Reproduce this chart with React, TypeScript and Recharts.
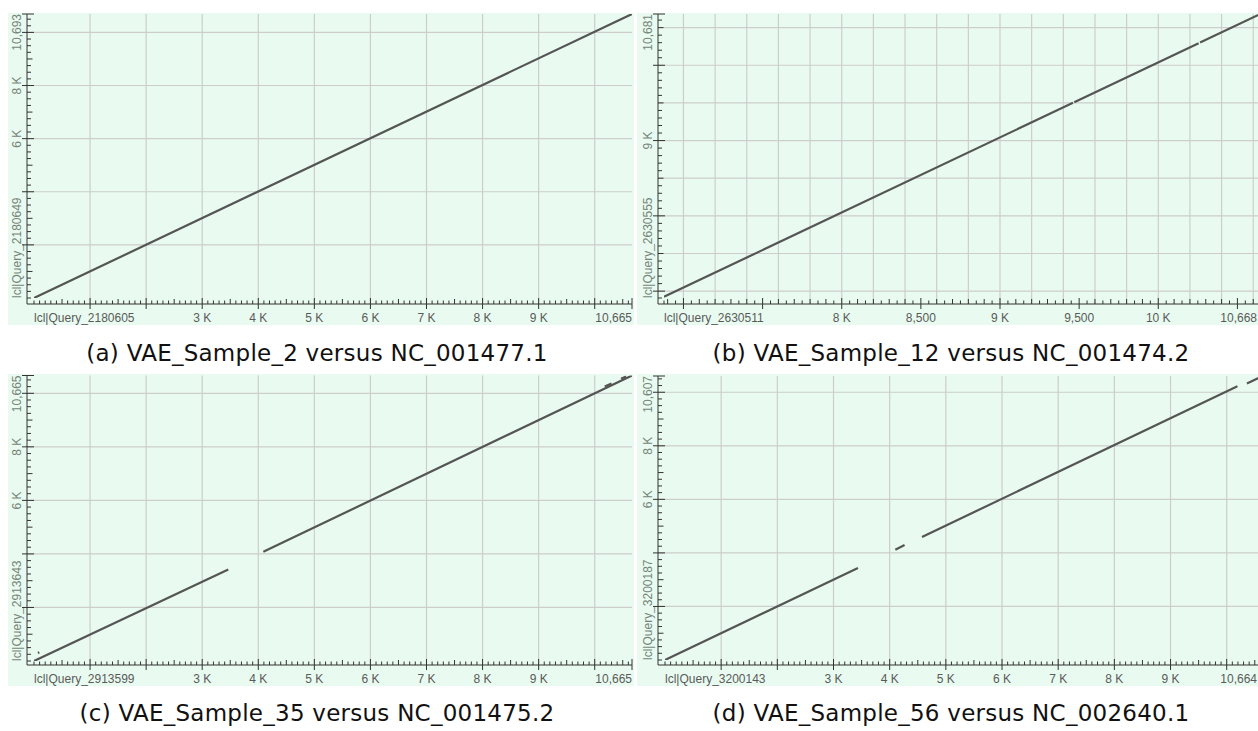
import React from 'react';
import { ComposedChart, Line, XAxis, YAxis, CartesianGrid } from 'recharts';

type Pt = { x: number; y: number };
type TickLabel = { v: number; t: string; anchor: 'start' | 'middle' | 'end'; shift?: number };

// ---------- (a) VAE_Sample_2 versus NC_001477.1 ----------
const aXDomain: [number, number] = [0, 10665];
const aYDomain: [number, number] = [0, 10693];
const aSegments: Pt[][] = [
  [{ x: 0, y: 0 }, { x: 10665, y: 10693 }],
];
const aXLabels: TickLabel[] = [
  { v: 0, t: 'lcl|Query_2180605', anchor: 'start' },
  { v: 3000, t: '3 K', anchor: 'middle' },
  { v: 4000, t: '4 K', anchor: 'middle' },
  { v: 5000, t: '5 K', anchor: 'middle' },
  { v: 6000, t: '6 K', anchor: 'middle' },
  { v: 7000, t: '7 K', anchor: 'middle' },
  { v: 8000, t: '8 K', anchor: 'middle' },
  { v: 9000, t: '9 K', anchor: 'middle' },
  { v: 10665, t: '10,665', anchor: 'end' },
];
const aYLabels: TickLabel[] = [
  { v: 0, t: 'lcl|Query_2180649', anchor: 'start' },
  { v: 6000, t: '6 K', anchor: 'middle' },
  { v: 8000, t: '8 K', anchor: 'middle' },
  { v: 10693, t: '10,693', anchor: 'end' },
];
const aXGrid = [1000, 2000, 3000, 4000, 5000, 6000, 7000, 8000, 9000, 10000];
const aYGrid = [2000, 4000, 6000, 8000, 10000];

// ---------- (b) VAE_Sample_12 versus NC_001474.2 ----------
const bXDomain: [number, number] = [6877, 10668];
const bYDomain: [number, number] = [6909, 10681];
const bSegments: Pt[][] = [
  [{ x: 6877, y: 6925 }, { x: 9461, y: 9502 }],
  [{ x: 9469, y: 9509 }, { x: 10255, y: 10292 }],
  [{ x: 10264, y: 10301 }, { x: 10645, y: 10681 }],
];
const bXLabels: TickLabel[] = [
  { v: 6877, t: 'lcl|Query_2630511', anchor: 'start' },
  { v: 8000, t: '8 K', anchor: 'middle' },
  { v: 8500, t: '8,500', anchor: 'middle' },
  { v: 9000, t: '9 K', anchor: 'middle' },
  { v: 9500, t: '9,500', anchor: 'middle' },
  { v: 10000, t: '10 K', anchor: 'middle' },
  { v: 10668, t: '10,668', anchor: 'end', shift: -7 },
];
const bYLabels: TickLabel[] = [
  { v: 6909, t: 'lcl|Query_2630555', anchor: 'start' },
  { v: 9000, t: '9 K', anchor: 'middle' },
  { v: 10681, t: '10,681', anchor: 'end', shift: 0 },
];
const bXGrid = [7000, 7200, 7400, 7600, 7800, 8000, 8200, 8400, 8600, 8800, 9000, 9200, 9400, 9600, 9800, 10000, 10200, 10400, 10600];
const bYGrid = [7000, 7500, 8000, 8500, 9000, 9500, 10000, 10500];

// ---------- (c) VAE_Sample_35 versus NC_001475.2 ----------
const cXDomain: [number, number] = [0, 10665];
const cYDomain: [number, number] = [0, 10665];
const cSegments: Pt[][] = [
  [{ x: 0, y: 0 }, { x: 3465, y: 3420 }],
  [{ x: 70, y: 300 }, { x: 95, y: 325 }],
  [{ x: 4090, y: 4080 }, { x: 10665, y: 10665 }],
  [{ x: 10180, y: 10250 }, { x: 10300, y: 10370 }],
  [{ x: 10470, y: 10540 }, { x: 10560, y: 10630 }],
];
const cXLabels: TickLabel[] = [
  { v: 0, t: 'lcl|Query_2913599', anchor: 'start' },
  { v: 3000, t: '3 K', anchor: 'middle' },
  { v: 4000, t: '4 K', anchor: 'middle' },
  { v: 5000, t: '5 K', anchor: 'middle' },
  { v: 6000, t: '6 K', anchor: 'middle' },
  { v: 7000, t: '7 K', anchor: 'middle' },
  { v: 8000, t: '8 K', anchor: 'middle' },
  { v: 9000, t: '9 K', anchor: 'middle' },
  { v: 10665, t: '10,665', anchor: 'end' },
];
const cYLabels: TickLabel[] = [
  { v: 0, t: 'lcl|Query_2913643', anchor: 'start' },
  { v: 6000, t: '6 K', anchor: 'middle' },
  { v: 8000, t: '8 K', anchor: 'middle' },
  { v: 10665, t: '10,665', anchor: 'end' },
];
const cXGrid = [1000, 2000, 3000, 4000, 5000, 6000, 7000, 8000, 9000, 10000];
const cYGrid = [2000, 4000, 6000, 8000, 10000];

// ---------- (d) VAE_Sample_56 versus NC_002640.1 ----------
const dXDomain: [number, number] = [0, 10664];
const dYDomain: [number, number] = [0, 10607];
const dSegments: Pt[][] = [
  [{ x: 0, y: 0 }, { x: 3435, y: 3435 }],
  [{ x: 4100, y: 4120 }, { x: 4265, y: 4295 }],
  [{ x: 4575, y: 4594 }, { x: 10191, y: 10224 }],
  [{ x: 10360, y: 10330 }, { x: 10640, y: 10600 }],
];
const dXLabels: TickLabel[] = [
  { v: 0, t: 'lcl|Query_3200143', anchor: 'start' },
  { v: 3000, t: '3 K', anchor: 'middle' },
  { v: 4000, t: '4 K', anchor: 'middle' },
  { v: 5000, t: '5 K', anchor: 'middle' },
  { v: 6000, t: '6 K', anchor: 'middle' },
  { v: 7000, t: '7 K', anchor: 'middle' },
  { v: 8000, t: '8 K', anchor: 'middle' },
  { v: 9000, t: '9 K', anchor: 'middle' },
  { v: 10664, t: '10,664', anchor: 'end', shift: -7 },
];
const dYLabels: TickLabel[] = [
  { v: 0, t: 'lcl|Query_3200187', anchor: 'start' },
  { v: 6000, t: '6 K', anchor: 'middle' },
  { v: 8000, t: '8 K', anchor: 'middle' },
  { v: 10607, t: '10,607', anchor: 'end' },
];
const dXGrid = [1000, 2000, 3000, 4000, 5000, 6000, 7000, 8000, 9000, 10000];
const dYGrid = [2000, 4000, 6000, 8000, 10000];

const captions = [
  { t: '(a) VAE_Sample_2 versus NC_001477.1', x: 317, y: 361 },
  { t: '(b) VAE_Sample_12 versus NC_001474.2', x: 951, y: 361 },
  { t: '(c) VAE_Sample_35 versus NC_001475.2', x: 317, y: 721 },
  { t: '(d) VAE_Sample_56 versus NC_002640.1', x: 951, y: 721 },
];

const PANEL_BG = '#E9FBF0';
const GRID = '#CDCDCD';
const MARK = '#555555';
const AXIS = '#333333';
const LABEL_FONT = '"Liberation Sans", Arial, sans-serif';

function tickValues(min: number, max: number, step: number): number[] {
  const out: number[] = [min];
  for (let v = Math.ceil(min / step) * step; v < max; v += step) {
    if (v > min) out.push(v);
  }
  out.push(max);
  return out;
}

type PanelProps = {
  left: number;
  top: number;
  boxWidth: number;
  chartWidth: number;
  plotTop: number;
  plotBottom: number;
  axisLeft: number;
  plotRight: number;
  padLeft: number;
  padBottom: number;
  xDomain: [number, number];
  yDomain: [number, number];
  xStep: number;
  xMid: number;
  xMajor: number;
  yStep: number;
  yMid: number;
  yMajor: number;
  xLabels: TickLabel[];
  yLabels: TickLabel[];
  xGrid: number[];
  yGrid: number[];
  segments: Pt[][];
};

const HEIGHT = 312;

function Panel(p: PanelProps) {
  const xTicks = tickValues(p.xDomain[0], p.xDomain[1], p.xStep);
  const yTicks = tickValues(p.yDomain[0], p.yDomain[1], p.yStep);
  const xLab = new Map(p.xLabels.map((l) => [l.v, l]));
  const yLab = new Map(p.yLabels.map((l) => [l.v, l]));

  const xKind = (v: number) => {
    if (v === p.xDomain[0]) return 'minor';
    if (v === p.xDomain[1] || v % p.xMajor === 0) return 'major';
    if (v % p.xMid === 0) return 'mid';
    return 'minor';
  };
  const yKind = (v: number) => {
    if (v === p.yDomain[0]) return 'minor';
    if (v === p.yDomain[1] || v % p.yMajor === 0) return 'major';
    if (v % p.yMid === 0) return 'mid';
    return 'minor';
  };

  const renderXTick = (props: any) => {
    const { x, y, payload } = props;
    const v = payload.value as number;
    const k = xKind(v);
    const lab = xLab.get(v);
    const up = k === 'major' ? 6 : k === 'mid' ? 5 : 3.5;
    const down = k === 'major' ? 5 : 0;
    return (
      <g>
        <line x1={x} x2={x} y1={y - up} y2={y + down} stroke={AXIS} strokeWidth={1} />
        {lab && (
          <text
            x={x + (lab.shift ?? 0)}
            y={y + 18}
            textAnchor={lab.anchor}
            fontSize={12}
            fontFamily={LABEL_FONT}
            fill="#5a5a5a"
          >
            {lab.t}
          </text>
        )}
      </g>
    );
  };

  const renderYTick = (props: any) => {
    const { x, y, payload } = props;
    const v = payload.value as number;
    const k = yKind(v);
    const lab = yLab.get(v);
    const l = k === 'major' ? 5 : 0;
    const r = k === 'major' ? 7 : k === 'mid' ? 5.5 : 4;
    const lx = x - 6;
    const ly = y + (lab?.shift ?? 0);
    return (
      <g>
        <line x1={x - l} x2={x + r} y1={y} y2={y} stroke={AXIS} strokeWidth={1} />
        {lab && (
          <text
            x={lx}
            y={ly}
            transform={`rotate(-90 ${lx} ${ly})`}
            textAnchor={lab.anchor}
            fontSize={12}
            fontFamily={LABEL_FONT}
            fill="#75857a"
          >
            {lab.t}
          </text>
        )}
      </g>
    );
  };

  return (
    <div
      style={{
        position: 'absolute',
        left: p.left,
        top: p.top,
        width: p.boxWidth,
        height: HEIGHT,
        overflow: 'hidden',
        background: PANEL_BG,
      }}
    >
      <ComposedChart
        width={p.chartWidth}
        height={HEIGHT}
        margin={{ top: p.plotTop, right: p.chartWidth - p.plotRight, bottom: 0, left: 0 }}
      >
        <CartesianGrid
          stroke={GRID}
          strokeWidth={1.2}
          horizontalValues={p.yGrid}
          verticalValues={p.xGrid}
        />
        <XAxis
          type="number"
          dataKey="x"
          domain={p.xDomain}
          allowDataOverflow
          ticks={xTicks}
          interval={0}
          height={HEIGHT - p.plotBottom}
          padding={{ left: p.padLeft, right: 0 }}
          tickSize={0}
          tickMargin={0}
          tickLine={false}
          axisLine={{ stroke: AXIS, strokeWidth: 1 }}
          tick={renderXTick}
        />
        <YAxis
          type="number"
          dataKey="y"
          domain={p.yDomain}
          allowDataOverflow
          ticks={yTicks}
          interval={0}
          width={p.axisLeft}
          padding={{ top: 0, bottom: p.padBottom }}
          tickSize={0}
          tickMargin={0}
          tickLine={false}
          axisLine={{ stroke: AXIS, strokeWidth: 1 }}
          tick={renderYTick}
        />
        {p.segments.map((seg, i) => (
          <Line
            key={i}
            data={seg}
            dataKey="y"
            type="linear"
            stroke={MARK}
            strokeWidth={2.2}
            dot={false}
            activeDot={false}
            isAnimationActive={false}
          />
        ))}
      </ComposedChart>
    </div>
  );
}

export default function App() {
  return (
    <div
      style={{
        position: 'fixed',
        left: 0,
        top: 0,
        width: 1258,
        height: 731,
        overflow: 'hidden',
        background: '#ffffff',
      }}
    >
      <Panel
        left={8} top={13} boxWidth={626} chartWidth={628}
        plotTop={1} plotBottom={291} axisLeft={19} plotRight={624}
        padLeft={7} padBottom={6}
        xDomain={aXDomain} yDomain={aYDomain}
        xStep={100} xMid={500} xMajor={1000}
        yStep={250} yMid={1000} yMajor={2000}
        xLabels={aXLabels} yLabels={aYLabels}
        xGrid={aXGrid} yGrid={aYGrid} segments={aSegments}
      />
      <Panel
        left={637} top={13} boxWidth={640} chartWidth={631}
        plotTop={1} plotBottom={291} axisLeft={21} plotRight={627}
        padLeft={6} padBottom={6}
        xDomain={bXDomain} yDomain={bYDomain}
        xStep={50} xMid={100} xMajor={500}
        yStep={100} yMid={500} yMajor={1000}
        xLabels={bXLabels} yLabels={bYLabels}
        xGrid={bXGrid} yGrid={bYGrid} segments={bSegments}
      />
      <Panel
        left={8} top={374} boxWidth={626} chartWidth={628}
        plotTop={1.5} plotBottom={291} axisLeft={19} plotRight={624}
        padLeft={7} padBottom={4}
        xDomain={cXDomain} yDomain={cYDomain}
        xStep={100} xMid={500} xMajor={1000}
        yStep={250} yMid={1000} yMajor={2000}
        xLabels={cXLabels} yLabels={cYLabels}
        xGrid={cXGrid} yGrid={cYGrid} segments={cSegments}
      />
      <Panel
        left={637} top={374} boxWidth={640} chartWidth={631}
        plotTop={2} plotBottom={291} axisLeft={21} plotRight={627}
        padLeft={7} padBottom={5}
        xDomain={dXDomain} yDomain={dYDomain}
        xStep={100} xMid={500} xMajor={1000}
        yStep={250} yMid={1000} yMajor={2000}
        xLabels={dXLabels} yLabels={dYLabels}
        xGrid={dXGrid} yGrid={dYGrid} segments={dSegments}
      />
      <svg
        width={1258}
        height={731}
        style={{ position: 'absolute', left: 0, top: 0, pointerEvents: 'none' }}
      >
        {captions.map((c) => (
          <text
            key={c.t}
            x={c.x}
            y={c.y}
            textAnchor="middle"
            fontFamily='"DejaVu Sans", sans-serif'
            fontSize={23}
            letterSpacing={0.25}
            fill="#111111"
          >
            {c.t}
          </text>
        ))}
      </svg>
    </div>
  );
}
